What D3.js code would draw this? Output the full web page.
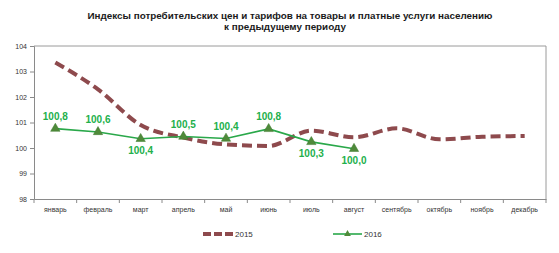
<!DOCTYPE html>
<html>
<head>
<meta charset="utf-8">
<script src="https://cdn.jsdelivr.net/npm/d3@7"></script>
<style>
  body { margin: 0; background: #fff; }
  svg { display: block; font-family: "Liberation Sans", Arial, sans-serif; }
</style>
</head>
<body>
<svg id="chart" width="559" height="253"></svg>
<script>
// data
const months = ["январь", "февраль", "март", "апрель", "май", "июнь", "июль", "август", "сентябрь", "октябрь", "ноябрь", "декабрь"];
const values2015 = [103.35, 102.3, 100.9, 100.41, 100.14, 100.08, 100.68, 100.42, 100.77, 100.34, 100.44, 100.47];
const values2016 = [100.76, 100.63, 100.36, 100.45, 100.37, 100.75, 100.24, 99.97];
const labels2016 = ["100,8", "100,6", "100,4", "100,5", "100,4", "100,8", "100,3", "100,0"];
const labelBelow = [false, false, true, false, false, false, true, true];
const yTicks = [98, 99, 100, 101, 102, 103, 104];

const svg = d3.select("#chart");
const margin = { top: 46, right: 13, bottom: 54, left: 34 };
const width = 559 - margin.left - margin.right;
const height = 253 - margin.top - margin.bottom;

const g = svg.append("g")
  .attr("transform", `translate(${margin.left},${margin.top})`);

// title
const title = svg.append("text")
  .attr("text-anchor", "middle")
  .attr("font-weight", "bold")
  .attr("font-size", 9.85)
  .attr("fill", "#1a1a1a");
title.append("tspan").attr("x", 290).attr("y", 19)
  .text("Индексы потребительских цен и тарифов на товары и платные услуги населению");
title.append("tspan").attr("x", 285).attr("y", 30)
  .text("к предыдущему периоду");

const x = d3.scaleBand().domain(months).range([0, width]);
const y = d3.scaleLinear().domain([98, 104]).range([height, 0]);
const cx = m => x(m) + x.bandwidth() / 2;

// plot frame (top and right)
g.append("path")
  .attr("d", `M0,0H${width}V${height}`)
  .attr("fill", "none")
  .attr("stroke", "#9a9a9a")
  .attr("stroke-width", 1);

// y axis
const yAxis = g.append("g")
  .call(d3.axisLeft(y).tickValues(yTicks).tickFormat(d3.format("d")).tickSize(4).tickPadding(3));
yAxis.select(".domain").attr("stroke", "#8a8a8a");
yAxis.selectAll(".tick line").attr("stroke", "#8a8a8a");
yAxis.selectAll(".tick text").attr("font-size", 7).attr("fill", "#333");

// x axis, ticks at band edges
const xAxis = g.append("g")
  .attr("transform", `translate(0,${height})`)
  .call(d3.axisBottom(x).tickSize(0).tickPadding(8));
xAxis.select(".domain").attr("stroke", "#8a8a8a");
xAxis.selectAll(".tick text").attr("font-size", 7).attr("fill", "#333");
g.append("g").selectAll("line")
  .data(months.concat([null]))
  .join("line")
  .attr("x1", (d, i) => i * x.bandwidth())
  .attr("x2", (d, i) => i * x.bandwidth())
  .attr("y1", height)
  .attr("y2", height + 4)
  .attr("stroke", "#8a8a8a");

// 2015 series: smooth dashed line
const line2015 = d3.line()
  .x((d, i) => cx(months[i]))
  .y(d => y(d))
  .curve(d3.curveMonotoneX);
g.append("path")
  .datum(values2015)
  .attr("d", line2015)
  .attr("fill", "none")
  .attr("stroke", "#8e4a4d")
  .attr("stroke-width", 4)
  .attr("stroke-dasharray", "10,5");

// 2016 series
const line2016 = d3.line()
  .x((d, i) => cx(months[i]))
  .y(d => y(d));
g.append("path")
  .datum(values2016)
  .attr("d", line2016)
  .attr("fill", "none")
  .attr("stroke", "#2aa84a")
  .attr("stroke-width", 1.6);

const tri = d3.symbol().type(d3.symbolTriangle).size(38);
g.append("g").selectAll("path")
  .data(values2016)
  .join("path")
  .attr("d", tri)
  .attr("transform", (d, i) => `translate(${cx(months[i])},${y(d)})`)
  .attr("fill", "#4f8a3a")
  .attr("stroke", "#3c7a2e")
  .attr("stroke-width", 0.5);

g.append("g").selectAll("text")
  .data(values2016)
  .join("text")
  .attr("x", (d, i) => cx(months[i]))
  .attr("y", (d, i) => y(d) + (labelBelow[i] ? 15 : -9))
  .attr("text-anchor", "middle")
  .attr("font-size", 10)
  .attr("font-weight", "bold")
  .attr("fill", "#22b04b")
  .text((d, i) => labels2016[i]);

// legend
const legend = svg.append("g").attr("transform", "translate(0,234)");
legend.append("line")
  .attr("x1", 203).attr("x2", 233)
  .attr("stroke", "#8e4a4d").attr("stroke-width", 4)
  .attr("stroke-dasharray", "8,3");
legend.append("text")
  .attr("x", 235).attr("y", 3)
  .attr("font-size", 8).attr("fill", "#333")
  .text("2015");
legend.append("line")
  .attr("x1", 333).attr("x2", 362)
  .attr("stroke", "#2aa84a").attr("stroke-width", 1.6);
legend.append("path")
  .attr("d", d3.symbol().type(d3.symbolTriangle).size(20))
  .attr("transform", "translate(347.5,0)")
  .attr("fill", "#4f8a3a");
legend.append("text")
  .attr("x", 364).attr("y", 3)
  .attr("font-size", 8).attr("fill", "#333")
  .text("2016");
</script>
</body>
</html>
